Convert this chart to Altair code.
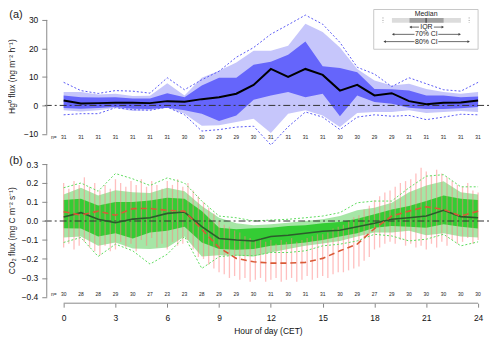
import altair as alt
import pandas as pd

hours = list(range(25))

# ---- Panel (a): Hg0 flux (ng m-2 h-1) ----
hg_n = [31, 31, 31, 31, 31, 31, 31, 30, 30, 29, 29, 30, 31, 31, 31, 31, 30, 30, 29, 29, 31, 31, 31, 31, 31]
hg_med = [1.7, 0.7, 0.8, 0.9, 0.9, 0.8, 1.5, 1.3, 2.2, 2.9, 4.1, 7.2, 12.8, 10.0, 12.8, 10.7, 5.2, 7.2, 3.5, 4.3, 1.5, 0.4, 0.9, 1.0, 1.7]
hg_q75 = [3.5, 2.9, 2.8, 2.9, 2.4, 2.4, 4.3, 2.9, 7.0, 9.7, 9.7, 14.3, 15.3, 17.8, 22.4, 13.7, 13.1, 11.6, 5.8, 5.7, 5.2, 3.5, 3.5, 2.9, 3.1]
hg_q25 = [-0.9, -1.2, -0.9, -0.6, -1.2, -1.3, -0.8, -1.7, -2.9, -5.5, -3.5, 2.0, 3.5, 4.7, 2.9, 4.1, -3.8, 3.5, 1.2, 0.6, -0.8, -1.3, -1.3, -1.0, -0.6]
hg_c85 = [4.7, 4.7, 3.8, 4.1, 3.3, 3.4, 7.8, 3.5, 9.7, 12.2, 15.1, 19.2, 19.2, 20.9, 28.7, 25.8, 20.3, 12.8, 8.7, 7.0, 7.6, 5.8, 4.7, 4.1, 4.7]
hg_c15 = [-1.7, -2.1, -1.7, -0.9, -2.0, -1.7, -0.8, -2.9, -7.1, -7.0, -5.8, -4.7, -9.7, -2.9, -1.7, -3.5, -7.6, -2.7, -2.3, -2.3, -1.7, -2.7, -2.3, -2.0, -2.3]
hg_c90 = [8.1, 5.2, 4.2, 5.2, 5.0, 4.3, 9.7, 5.5, 9.0, 12.0, 16.9, 20.3, 25.0, 28.3, 31.7, 28.5, 22.1, 13.4, 11.0, 6.6, 9.7, 7.6, 5.5, 5.0, 8.1]
hg_c10 = [-3.3, -2.9, -2.9, -0.8, -1.5, -1.7, -0.6, -3.3, -9.0, -8.5, -7.6, -7.3, -13.9, -7.5, -2.3, -4.1, -8.5, -4.1, -3.3, -3.8, -3.5, -5.0, -4.1, -3.1, -3.3]

# ---- Panel (b): CO2 flux (mg C m-2 s-1) ----
co_n = [30, 28, 28, 29, 30, 27, 23, 23, 28, 29, 29, 30, 31, 30, 31, 31, 30, 29, 27, 29, 30, 30, 30, 30, 30]
co_med = [0.021, 0.044, 0.009, -0.009, 0.010, 0.017, 0.040, 0.047, -0.030, -0.092, -0.100, -0.105, -0.082, -0.075, -0.065, -0.054, -0.049, -0.030, -0.012, 0.009, 0.017, 0.026, 0.056, 0.023, 0.017]
co_mean = [0.049, 0.031, 0.052, 0.030, 0.065, 0.066, 0.056, 0.052, -0.044, -0.140, -0.197, -0.215, -0.222, -0.222, -0.218, -0.197, -0.157, -0.122, -0.040, 0.026, 0.052, 0.075, 0.061, 0.026, 0.052]
co_q75 = [0.110, 0.117, 0.082, 0.100, 0.100, 0.108, 0.122, 0.117, 0.052, -0.035, -0.044, -0.038, -0.035, -0.026, -0.023, -0.012, -0.005, 0.012, 0.035, 0.061, 0.079, 0.105, 0.134, 0.117, 0.110]
co_q25 = [-0.038, -0.040, -0.082, -0.065, -0.092, -0.061, -0.052, -0.030, -0.113, -0.148, -0.152, -0.148, -0.131, -0.122, -0.113, -0.100, -0.082, -0.065, -0.035, -0.026, -0.030, -0.035, -0.017, -0.030, -0.040]
co_c85 = [0.140, 0.175, 0.134, 0.162, 0.152, 0.148, 0.175, 0.157, 0.079, 0.017, -0.012, -0.023, -0.017, -0.009, 0.000, 0.009, 0.026, 0.056, 0.070, 0.096, 0.152, 0.187, 0.209, 0.152, 0.140]
co_c15 = [-0.087, -0.082, -0.131, -0.113, -0.145, -0.148, -0.140, -0.082, -0.187, -0.180, -0.183, -0.187, -0.166, -0.148, -0.131, -0.119, -0.105, -0.082, -0.061, -0.061, -0.052, -0.075, -0.065, -0.082, -0.087]
co_c90 = [0.175, 0.200, 0.157, 0.250, 0.222, 0.187, 0.227, 0.200, 0.105, 0.026, 0.017, 0.000, 0.005, 0.009, 0.017, 0.026, 0.044, 0.096, 0.105, 0.105, 0.175, 0.236, 0.244, 0.180, 0.180]
co_c10 = [-0.113, -0.087, -0.187, -0.122, -0.157, -0.227, -0.175, -0.082, -0.250, -0.188, -0.180, -0.183, -0.166, -0.166, -0.157, -0.131, -0.122, -0.105, -0.070, -0.079, -0.105, -0.096, -0.070, -0.131, -0.110]

# red whiskers (every 0.3 h)
red_pos = [round(i * 0.3, 1) for i in range(81)]
red_top = [0.20, 0.17, 0.21, 0.19, 0.23, 0.18, 0.20, 0.16, 0.19, 0.17,
           0.22, 0.20, 0.18, 0.21, 0.19, 0.22, 0.18, 0.21, 0.19, 0.17,
           0.21, 0.19, 0.22, 0.18, 0.20, 0.16, 0.13, 0.10, 0.07, 0.04,
           0.00, -0.02, -0.03, -0.05, -0.06, -0.08, -0.09, -0.10, -0.09, -0.11,
           -0.10, -0.12, -0.10, -0.11, -0.09, -0.11, -0.10, -0.09, -0.08, -0.07,
           -0.07, -0.06, -0.04, -0.03, -0.02, 0.00, 0.02, 0.03, 0.06, 0.08,
           0.11, 0.13, 0.15, 0.16, 0.18, 0.20, 0.21, 0.22, 0.25, 0.28,
           0.26, 0.24, 0.27, 0.25, 0.23, 0.21, 0.19, 0.18, 0.20, 0.16, 0.15]
red_bot = [-0.14, -0.12, -0.15, -0.13, -0.11, -0.14, -0.16, -0.18, -0.13, -0.16,
           -0.15, -0.11, -0.14, -0.12, -0.16, -0.10, -0.13, -0.09, -0.14, -0.12,
           -0.15, -0.11, -0.13, -0.12, -0.10, -0.15, -0.19, -0.20, -0.23, -0.25,
           -0.27, -0.28, -0.30, -0.29, -0.31, -0.30, -0.32, -0.31, -0.30, -0.32,
           -0.31, -0.30, -0.32, -0.31, -0.30, -0.32, -0.31, -0.29, -0.31, -0.30,
           -0.29, -0.30, -0.28, -0.27, -0.27, -0.26, -0.25, -0.24, -0.21, -0.19,
           -0.15, -0.14, -0.12, -0.11, -0.12, -0.10, -0.13, -0.12, -0.14, -0.13,
           -0.15, -0.12, -0.14, -0.11, -0.13, -0.10, -0.12, -0.11, -0.09, -0.12, -0.10]

x_ticks = [0, 3, 6, 9, 12, 15, 18, 21, 24]
hg_ticks = [-10, 0, 10, 20, 30]
co_ticks = [-0.4, -0.3, -0.2, -0.1, 0.0, 0.1, 0.2, 0.3]

hg = pd.DataFrame({"hour": hours, "n": hg_n, "med": hg_med, "q25": hg_q25, "q75": hg_q75,
                   "c15": hg_c15, "c85": hg_c85, "c10": hg_c10, "c90": hg_c90})
co = pd.DataFrame({"hour": hours, "n": co_n, "med": co_med, "mean": co_mean, "q25": co_q25, "q75": co_q75,
                   "c15": co_c15, "c85": co_c85, "c10": co_c10, "c90": co_c90})
red = pd.DataFrame({"p": red_pos, "top": red_top, "bot": red_bot})
one = pd.DataFrame({"a": [0]})
zero = pd.DataFrame({"z": [0.0]})
hg_rng = pd.DataFrame({"lo": [hg_ticks[0]], "hi": [hg_ticks[-1]]})
co_rng = pd.DataFrame({"lo": [co_ticks[0]], "hi": [co_ticks[-1]]})
x_rng = pd.DataFrame({"lo": [x_ticks[0]], "hi": [x_ticks[-1]]})

FONT = "Liberation Sans"
W, HA, HB = 445, 140, 149
xs = alt.Scale(domain=[-0.978, 24.633], nice=False, zero=False)
ya = alt.Scale(domain=[-15.0, 33.83], nice=False, zero=False)
yb = alt.Scale(domain=[-0.433, 0.347], nice=False, zero=False)


def yaxis(vals, fmt):
    return alt.Axis(values=vals, format=fmt, domain=False, grid=False, tickColor="#888",
                    tickSize=5, tickWidth=1, labelPadding=4, labelFontSize=8.5,
                    labelColor="#111", labelFont=FONT, title=None, zindex=2)


AXA = yaxis(hg_ticks, "d")
AXB = yaxis(co_ticks, ".1f")
AXX = alt.Axis(values=x_ticks, domain=False, grid=False, tickColor="#888", tickSize=4,
               tickWidth=1, labelPadding=6, labelFontSize=8.5, labelColor="#111",
               labelFont=FONT, title="Hour of day (CET)", titleFont=FONT,
               titleFontSize=8.5, titleFontWeight="normal", titleColor="#111", titlePadding=5,
               zindex=2)


def YA(f):
    return alt.Y(f, scale=ya, axis=AXA)


def YB(f):
    return alt.Y(f, scale=yb, axis=AXB)


def px_text(txt, x, y, size, **kw):
    return alt.Chart(one).mark_text(text=txt, fontSize=size, font=FONT, color="#222", **kw).encode(
        x=alt.value(x), y=alt.value(y))


def px_rule(x1, x2, y1, y2, **kw):
    return alt.Chart(one).mark_rule(**kw).encode(
        x=alt.value(x1), x2=alt.value(x2), y=alt.value(y1), y2=alt.value(y2))


def px_rect(x1, x2, y1, y2, **kw):
    return alt.Chart(one).mark_rect(**kw).encode(
        x=alt.value(x1), x2=alt.value(x2), y=alt.value(y1), y2=alt.value(y2))


def px_tri(x, y, shape):
    return alt.Chart(one).mark_point(shape=shape, filled=True, size=8, color="#444", opacity=1).encode(
        x=alt.value(x), y=alt.value(y))


LF = 7
# ---------------- panel (a) ----------------
ba = alt.Chart(hg).encode(x=alt.X("hour:Q", scale=xs, axis=None))
a_layers = [
    px_rect(-37, 447, 0, HA, color="white"),
    ba.mark_area(color="#c6c6fb").encode(y=YA("c85:Q"), y2="c15:Q"),
    ba.mark_area(color="#6565fb").encode(y=YA("q75:Q"), y2="q25:Q"),
    ba.mark_line(color="#5a5af5", strokeDash=[2, 2], strokeWidth=1).encode(y=YA("c90:Q")),
    ba.mark_line(color="#5a5af5", strokeDash=[2, 2], strokeWidth=1).encode(y=YA("c10:Q")),
    alt.Chart(zero).mark_rule(color="#333", strokeDash=[7, 3, 2, 3], strokeWidth=1).encode(
        y=YA("z:Q"), x=alt.value(-2), x2=alt.value(447)),
    alt.Chart(hg_rng).mark_rule(color="#888", strokeWidth=1).encode(
        x=alt.value(0), y=YA("lo:Q"), y2="hi:Q"),
    ba.mark_line(color="black", strokeWidth=2).encode(y=YA("med:Q")),
    ba.mark_text(fontSize=5, font=FONT, color="#222").encode(y=alt.value(129), text="n:Q"),
    px_text("n=", 7, 129, 5),
    px_text("Hg⁰ flux (ng m⁻² h⁻¹)", -35, 68, 8.5, angle=270, baseline="middle"),
    px_text("(a)", -31, 0, 11, baseline="top"),
    # legend
    px_rect(329, 434, 0.5, 40.5, fill="white", stroke="#c8c8c8", strokeWidth=1),
    px_text("Median", 381.7, 5, LF, baseline="middle"),
    px_rect(347.3, 416.7, 9, 13.7, color="#dcdcdc"),
    px_rect(365, 399.3, 9, 13.7, color="#a0a0a0"),
    px_rule(381.7, 381.7, 9, 13.7, color="#555", strokeWidth=1.5),
    px_rule(338.3, 338.3, 8.5, 14, color="#999", strokeDash=[1, 1.5]),
    px_rule(425, 425, 8.5, 14, color="#999", strokeDash=[1, 1.5]),
    px_rule(366, 374.5, 18.2, 18.2, color="#444", strokeWidth=0.8),
    px_rule(389.5, 398.5, 18.2, 18.2, color="#444", strokeWidth=0.8),
    px_tri(366, 18.2, "triangle-left"), px_tri(398.5, 18.2, "triangle-right"),
    px_text("IQR", 382, 18.2, LF, baseline="middle"),
    px_rule(348.5, 370, 25.5, 25.5, color="#444", strokeWidth=0.8),
    px_rule(394, 415.5, 25.5, 25.5, color="#444", strokeWidth=0.8),
    px_tri(348.5, 25.5, "triangle-left"), px_tri(415.5, 25.5, "triangle-right"),
    px_text("70% CI", 382, 25.5, LF, baseline="middle"),
    px_rule(340, 370, 32.8, 32.8, color="#444", strokeWidth=0.8),
    px_rule(394, 424.5, 32.8, 32.8, color="#444", strokeWidth=0.8),
    px_tri(340, 32.8, "triangle-left"), px_tri(424.5, 32.8, "triangle-right"),
    px_text("80% CI", 382, 32.8, LF, baseline="middle"),
]
panel_a = alt.layer(*a_layers).properties(width=W, height=HA)

# ---------------- panel (b) ----------------
bb = alt.Chart(co).encode(x=alt.X("hour:Q", scale=xs, axis=AXX))
b_layers = [
    px_rect(-37, 447, 0, 182, color="white"),
    bb.mark_area(color="#a6e6a6").encode(y=YB("c85:Q"), y2="c15:Q"),
    bb.mark_area(color="#34cc34").encode(y=YB("q75:Q"), y2="q25:Q"),
    alt.Chart(red).mark_rule(color="#ff8080", opacity=0.5, strokeWidth=1.3).encode(
        x=alt.X("p:Q", scale=xs, axis=AXX), y=YB("top:Q"), y2="bot:Q"),
    bb.mark_line(color="#5fdc5f", strokeDash=[2, 2], strokeWidth=1).encode(y=YB("c90:Q")),
    bb.mark_line(color="#5fdc5f", strokeDash=[2, 2], strokeWidth=1).encode(y=YB("c10:Q")),
    alt.Chart(zero).mark_rule(color="#333", strokeDash=[7, 3, 2, 3], strokeWidth=1.2).encode(
        y=YB("z:Q"), x=alt.value(-2), x2=alt.value(447)),
    alt.Chart(co_rng).mark_rule(color="#888", strokeWidth=1).encode(
        x=alt.value(0), y=YB("lo:Q"), y2="hi:Q"),
    alt.Chart(x_rng).mark_rule(color="#888", strokeWidth=1).encode(
        x=alt.X("lo:Q", scale=xs, axis=AXX), x2="hi:Q", y=alt.value(HB)),
    bb.mark_line(color="#2c5c2c", strokeWidth=1.6).encode(y=YB("med:Q")),
    bb.mark_line(color="#d95a36", strokeDash=[6, 4], strokeWidth=1.6).encode(y=YB("mean:Q")),
    bb.mark_text(fontSize=5, font=FONT, color="#222").encode(y=alt.value(140), text="n:Q"),
    px_text("n=", 7, 140, 5),
    px_text("CO₂ flux (mg C m⁻² s⁻¹)", -35, 76, 8.5, angle=270, baseline="middle"),
    px_text("(b)", -31, 0, 11, baseline="top"),
]
panel_b = alt.layer(*b_layers).properties(width=W, height=HB)

chart = alt.vconcat(panel_a, panel_b, spacing=7, bounds="flush").properties(
    padding=0).configure_view(stroke=None)

chart.save("out.html", embed_options={"renderer": "svg", "actions": False})
